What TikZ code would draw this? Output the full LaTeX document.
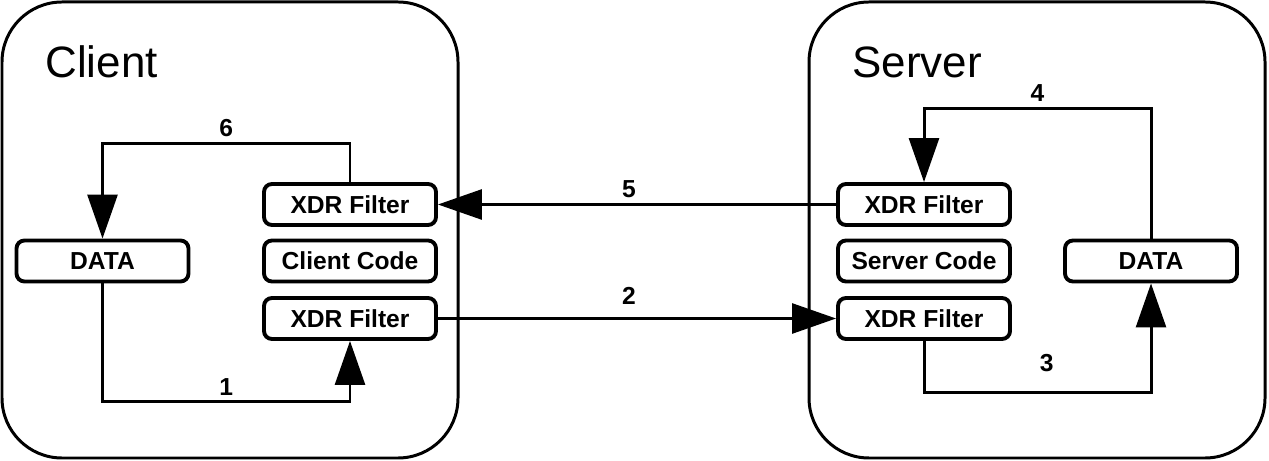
\documentclass[tikz,border=0pt]{standalone}
\usepackage{fontspec}
\setmainfont{Liberation Sans}
\usetikzlibrary{arrows.meta}

\begin{document}
\begin{tikzpicture}
        [
        Box/.style={rectangle,draw=black,rounded corners=4.5pt,line width=2.2pt,minimum width=3.44cm,minimum height=0.82cm,inner sep=0pt,font=\fontsize{14}{16}\selectfont\bfseries},
        Tag/.style={rectangle,anchor=base west,inner sep=0pt,font=\fontsize{25}{30}\selectfont},
        Num/.style={inner sep=3pt,font=\fontsize{14}{16}\selectfont\bfseries},
        Flow/.style={-{Triangle[length=25pt,width=17pt]},line width=1.7pt},
        ]

        \useasboundingbox (0,0) rectangle (25.38,-9.22);
        \draw[line width=1.7pt,rounded corners=1.2cm] (0.04,-0.04) rectangle (9.16,-9.16);
        \node[Tag] (tag1) at (0.9,-1.56){Client};
        \node[Box] (n1) at (7.0,-4.09){XDR Filter};
        \node[Box] (n2) at (7.0,-5.22){Client Code};
        \node[Box] (n3) at (7.0,-6.37){XDR Filter};
        \node[Box] (n4) at (2.05,-5.22){DATA};

\draw[line width=1.7pt,rounded corners=1.2cm] (16.18,-0.04) rectangle (25.30,-9.16);
\node[Tag] (tag2) at (17.04,-1.56){Server};
\node[Box] (n5) at (18.48,-4.09){XDR Filter};
\node[Box] (n6) at (18.48,-5.22){Server Code};
\node[Box] (n7) at (18.48,-6.37){XDR Filter};
\node[Box] (n8) at (23.02,-5.22){DATA};

\draw[Flow] (n4.south) -- ++(0,-2.37) -| (n3.south) node[Num,pos=0.25,above]{1};
\draw[Flow] (n3.east) -- (n7.west) node[Num,pos=0.48,above=4pt]{2};
\draw[Flow] (n7.south) -- ++(0,-1.04) -| (n8.south) node[Num,pos=0.27,above=8pt]{3};
\draw[Flow] (n8.north) -- ++(0,2.61) -| (n5.north) node[Num,pos=0.25,above]{4};
\draw[Flow] (n5.west) -- (n1.east) node[Num,pos=0.52,above]{5};
\draw[Flow] (n1.north) -- ++(0,0.78) -| (n4.north) node[Num,pos=0.25,above]{6};

    \end{tikzpicture}
\end{document}
